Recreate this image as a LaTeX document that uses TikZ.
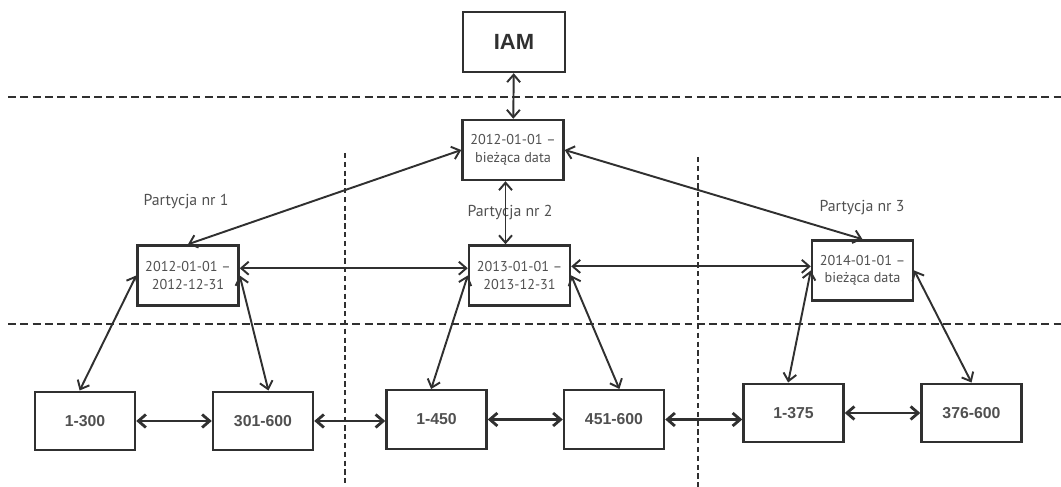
\documentclass[tikz,border=0pt]{standalone}
\usepackage{fontspec}
\setmainfont{PT Sans}
\newfontfamily\rangefont{Liberation Sans}
\usepackage{xcolor}
\usepackage{tikz}
\usetikzlibrary{arrows.meta, positioning}

\definecolor{ink}{RGB}{48,48,48}
\definecolor{txt}{RGB}{80,80,80}

\begin{document}
\begin{tikzpicture}[
    datebox/.style={draw=ink, line width=1.4pt, minimum width=2.02cm, minimum height=1.2cm, align=center, text=txt, font=\fontsize{8.1}{10}\selectfont},
    rangebox/.style={draw=ink, line width=1.4pt, minimum width=2.0cm, minimum height=1.17cm, text=txt, font=\rangefont\bfseries\fontsize{9}{11}\selectfont},
    arr/.style={{Straight Barb[length=1.5mm, width=2.6mm]}-{Straight Barb[length=1.5mm, width=2.6mm]}, line width=1.1pt, draw=ink},
    thickarr/.style={arr, line width=1.6pt},
    divider/.style={draw=ink, line width=1.3pt, dash pattern=on 4.5pt off 2.5pt},
    vdivider/.style={draw=ink, line width=1pt, dash pattern=on 3pt off 2pt},
    partlabel/.style={text=txt, font=\fontsize{9}{11}\selectfont}
]
\useasboundingbox (0, 0) rectangle (21.22, 9.74);

% Separators
\draw[divider] (0.16, 7.80) -- (21.22, 7.80);
\draw[divider] (0.16, 3.26) -- (21.22, 3.26);
\draw[vdivider] (6.90, 6.68) -- (6.90, 0);
\draw[vdivider] (13.96, 6.60) -- (13.96, 0);

% Top levels
\node[datebox, minimum width=2.04cm, text=ink, font=\rangefont\bfseries\fontsize{12.5}{14}\selectfont] (iam) at (10.28, 8.90) {IAM};
\node[datebox] (root) at (10.26, 6.74) {2012-01-01 --\\bieżąca data};

% Partitions
\node[datebox] (p1) at (3.76, 4.23) {2012-01-01 --\\2012-12-31};
\node[datebox] (p2) at (10.39, 4.23) {2013-01-01 --\\2013-12-31};
\node[datebox] (p3) at (17.25, 4.33) {2014-01-01 --\\bieżąca data};

\node[partlabel] (l1) at (3.72, 5.70) {Partycja nr 1};
\node[partlabel] (l2) at (10.20, 5.48) {Partycja nr 2};
\node[partlabel] (l3) at (17.24, 5.58) {Partycja nr 3};

% Ranges
\node[rangebox] (b1) at (1.70, 1.32) {1-300};
\node[rangebox] (b2) at (5.26, 1.32) {301-600};
\node[rangebox] (b3) at (8.73, 1.35) {1-450};
\node[rangebox] (b4) at (12.28, 1.35) {451-600};
\node[rangebox] (b5) at (15.87, 1.48) {1-375};
\node[rangebox] (b6) at (19.43, 1.48) {376-600};

\draw[arr] (iam) -- (root);
\draw[arr] (root.west) -- (p1.north);
\draw[arr] ([xshift=-1.5mm]root.south) -- ([xshift=-1.5mm]root.south |- p2.north);
\draw[arr] (root.east) -- (p3.north);

\draw[arr] (p1.8) -- (p2.172);
\draw[arr] (p2.10) -- (p2.10 -| p3.west);

\draw[arr] (p1.west) -- (b1.100);
\draw[arr] (p1.east) -- (b2.80);
\draw[arr] (p2.west) -- (b3.100);
\draw[arr] (p2.east) -- (b4.80);
\draw[arr] (p3.west) -- (b5.100);
\draw[arr] (p3.east) -- (b6.north);

\draw[thickarr] (b1) -- (b2);
\draw[thickarr] (b2) -- (b2 -| b3.west);
\draw[thickarr] (b3) -- (b4);
\draw[thickarr] (b4.east) -- (b4.east -| b5.west);
\draw[thickarr] (b5) -- (b6);

\end{tikzpicture}
\end{document}
